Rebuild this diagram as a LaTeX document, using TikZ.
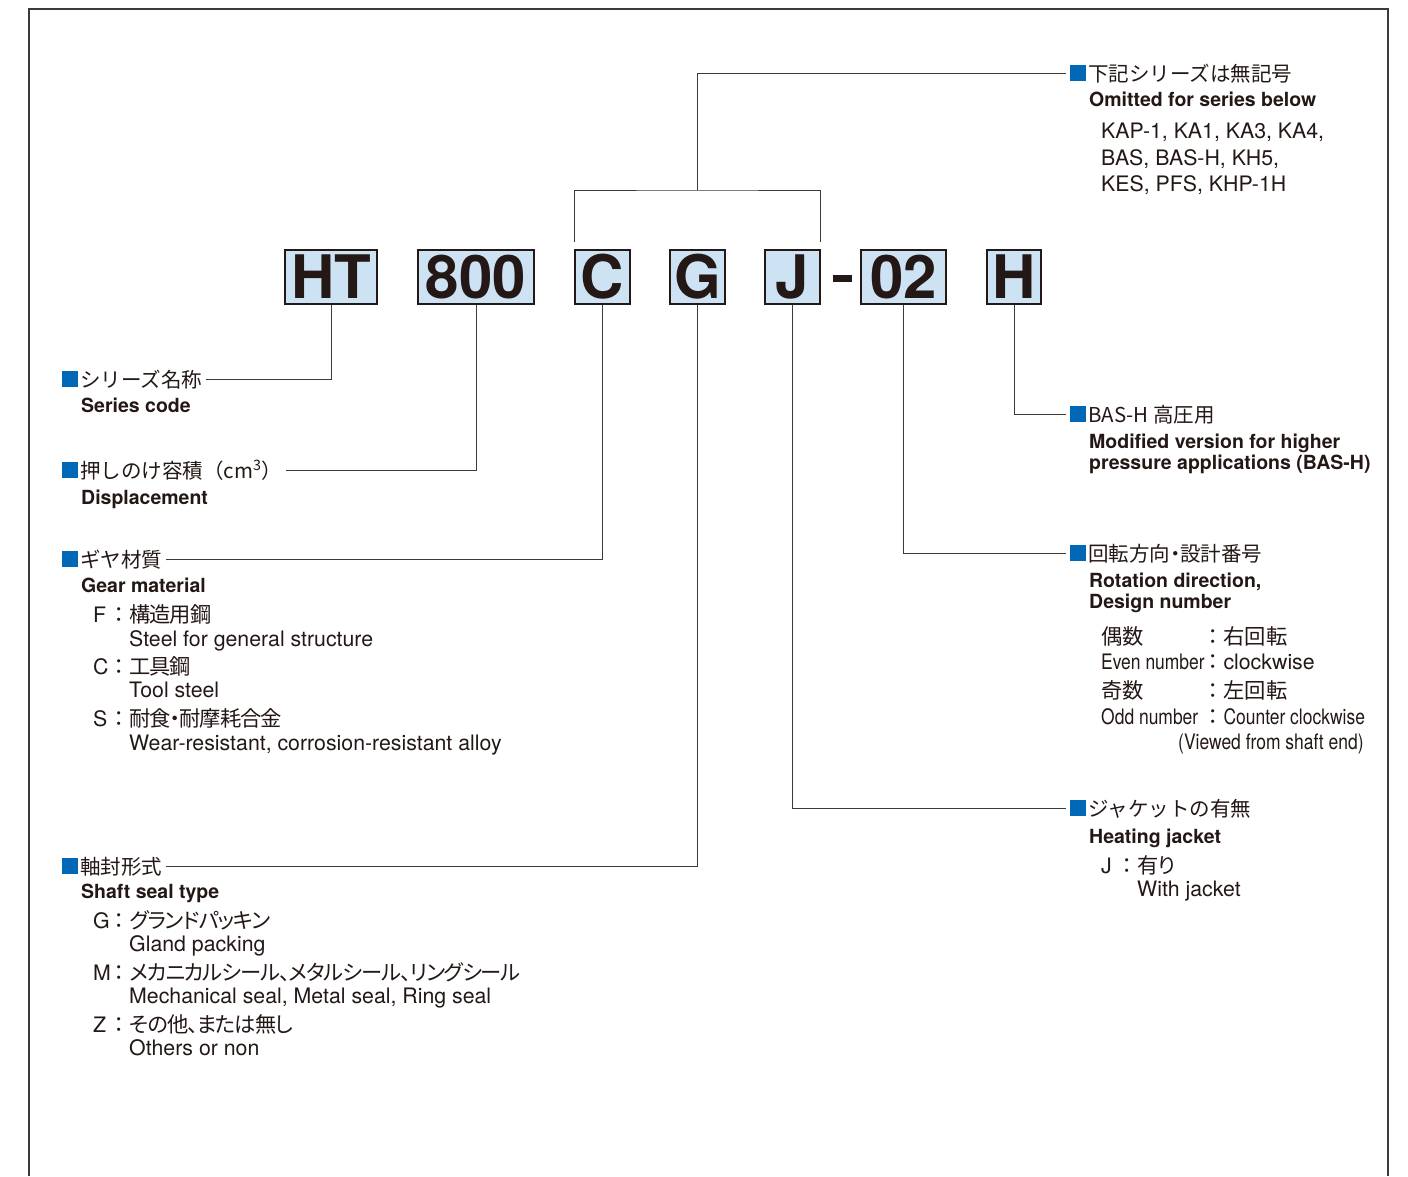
\documentclass[tikz,border=0pt]{standalone}
\usepackage{fontspec}
\setmainfont{TeX Gyre Heros}
\newfontfamily\jp{Noto Sans CJK JP}
\newfontfamily\jpp[RawFeature=+palt,LetterSpace=-5]{Noto Sans CJK JP}
\newfontfamily\narrowfont[FakeStretch=0.82]{TeX Gyre Heros}
\usetikzlibrary{positioning}
\definecolor{ink}{HTML}{231815}
\definecolor{boxblue}{HTML}{CDE3F4}
\definecolor{mkblue}{HTML}{0068B7}
\definecolor{lineg}{HTML}{3E3A39}
\newcommand\mk{{\color{mkblue}\rule{16pt}{16pt}}\hspace{2pt}}
\newcommand\keyitem[2]{\makebox[15pt][l]{#1}{\jp ：}{\jpp #2}}
\tikzset{
  code/.style={draw=ink,fill=boxblue,line width=1.4pt,minimum height=54pt,inner sep=0pt,
    font=\bfseries\fontsize{60}{60}\selectfont,text=ink},
  ttl/.style={anchor=base west,inner xsep=4pt,inner ysep=0pt,font=\jp\fontsize{20.5}{24}\selectfont,text=ink},
  sub/.style={anchor=base west,inner sep=0pt,font=\bfseries\fontsize{19.5}{21}\selectfont,text=ink},
  itm/.style={anchor=base west,inner sep=0pt,font=\fontsize{21.3}{24}\selectfont,text=ink},
  ln/.style={draw=lineg,line width=1pt},
}
\begin{document}
\begin{tikzpicture}[x=1pt,y=-1pt]
\useasboundingbox (0,0) rectangle (1408,1176);
% frame, open at the bottom
\draw[lineg,line width=1.2pt] (29,1176) -- (29,9) -- (1388,9) -- (1388,1176);

% model code boxes
\node[code,minimum width=92pt] (HT) at (331,277) {HT};
\node[code,minimum width=116pt] (n800) at (476,277) {800};
\node[code,minimum width=55pt] (C) at (602.5,277) {C};
\node[code,minimum width=55pt] (G) at (697.5,277) {G};
\node[code,minimum width=55pt] (J) at (792.5,277) {J};
\node[fill=ink,minimum width=19pt,minimum height=7pt,inner sep=0pt] (dash) at (842,278) {};
\node[code,minimum width=85pt] (n02) at (903.5,277) {02};
\node[code,minimum width=54pt] (H) at (1014,277) {H};

% left side
\node[ttl] (sertitle) at (58,387) {\mk シリーズ名称};
\node[sub] (sercode) at (81,412) {Series code};
\node[ttl] (distitle) at (58,478) {\mk 押しのけ容積（cm\textsuperscript{3}）};
\node[sub] (disp) at (81,504) {Displacement};
\node[ttl] (geartitle) at (58,567) {\mk ギヤ材質};
\node[sub] (gearsub) at (81,592) {Gear material};
\node[itm] (gF) at (93,622) {\keyitem{F}{構造用鋼}};
\node[itm] (gFe) at (129,646) {Steel for general structure};
\node[itm] (gC) at (93,674) {\keyitem{C}{工具鋼}};
\node[itm] (gCe) at (129,697) {Tool steel};
\node[itm] (gS) at (93,726) {\keyitem{S}{耐食・耐摩耗合金}};
\node[itm] (gSe) at (129,750) {Wear-resistant, corrosion-resistant alloy};
\node[ttl] (sealtitle) at (58,874) {\mk 軸封形式};
\node[sub] (sealsub) at (81,898) {Shaft seal type};
\node[itm] (sG) at (93,928) {\keyitem{G}{グランドパッキン}};
\node[itm] (sGe) at (129,951) {Gland packing};
\node[itm] (sM) at (93,980) {\keyitem{M}{メカニカルシール、メタルシール、リングシール}};
\node[itm] (sMe) at (129,1003) {Mechanical seal, Metal seal, Ring seal};
\node[itm] (sZ) at (93,1032) {\keyitem{Z}{その他、または無し}};
\node[itm] (sZe) at (129,1055) {Others or non};

% right side
\node[ttl] (omittitle) at (1066,81) {\mk 下記シリーズは無記号};
\node[sub] (omitsub) at (1089,106) {Omitted for series below};
\node[itm] (om1) at (1101,138) {KAP-1, KA1, KA3, KA4,};
\node[itm] (om2) at (1101,165) {BAS, BAS-H, KH5,};
\node[itm] (om3) at (1101,191) {KES, PFS, KHP-1H};
\node[ttl] (bastitle) at (1066,422) {\mk BAS-H 高圧用};
\node[sub] (basA) at (1089,448) {Modified version for higher};
\node[sub] (basB) at (1089,469) {pressure applications (BAS-H)};
\node[ttl] (rottitle) at (1066,561) {\mk 回転方向{\jpp ・}設計番号};
\node[sub] (rotA) at (1089,587) {Rotation direction,};
\node[sub] (rotB) at (1089,608) {Design number};
\node[itm] (ev1) at (1101,644) {\jp\makebox[101pt][l]{偶数}：右回転};
\node[itm] (ev2) at (1101,669) {\makebox[101pt][l]{\narrowfont Even number}{\jp ：}clockwise};
\node[itm] (od1) at (1101,698) {\jp\makebox[101pt][l]{奇数}：左回転};
\node[itm] (od2) at (1101,724) {\makebox[101pt][l]{\narrowfont Odd number}{\jp ：}{\narrowfont Counter clockwise}};
\node[itm] (od3) at (1178,749) {\narrowfont (Viewed from shaft end)};
\node[ttl] (jacktitle) at (1066,816) {\mk ジャケットの有無};
\node[sub] (jacksub) at (1089,843) {Heating jacket};
\node[itm] (jJ) at (1101,873) {\keyitem{J}{有り}};
\node[itm] (jJe) at (1137,896) {With jacket};

% connectors
\coordinate (brk) at (697.5,190);
\draw[ln] ([yshift=7pt]C.north west) |- (brk) -| ([yshift=7pt]J.north east);
\draw[ln] (brk) |- (omittitle.west);
\draw[ln] (HT.south) |- (sertitle.east);
\draw[ln] (n800.south) |- (distitle.east);
\draw[ln] (C.south) |- (geartitle.east);
\draw[ln] (G.south) |- (sealtitle.east);
\draw[ln] (J.south) |- (jacktitle.west);
\draw[ln] (n02.south) |- (rottitle.west);
\draw[ln] (H.south) |- (bastitle.west);
\end{tikzpicture}
\end{document}
